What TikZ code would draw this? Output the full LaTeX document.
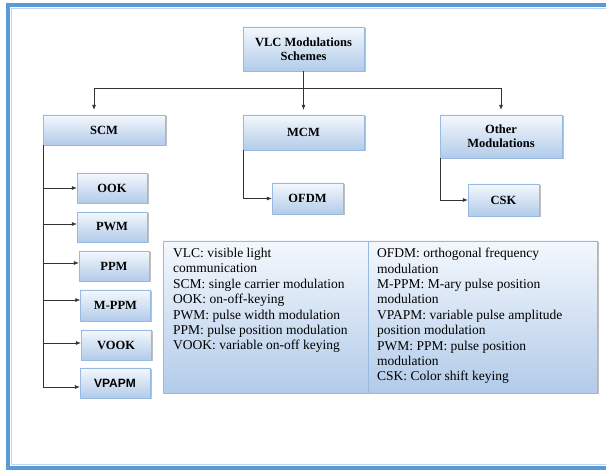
\documentclass[tikz,border=0pt]{standalone}
\usepackage{fontspec}
\setmainfont{Liberation Serif}
\newfontfamily\arialfont{Liberation Sans}
\usetikzlibrary{arrows.meta,shadows}

\definecolor{framecol}{RGB}{91,155,213}
\definecolor{framelite}{RGB}{189,215,238}
\definecolor{boxline}{RGB}{150,186,226}
\definecolor{boxtop}{RGB}{244,248,253}
\definecolor{boxbot}{RGB}{178,203,233}

\begin{document}
\begin{tikzpicture}[x=1pt, y=-1pt,
  box/.style={draw=boxline, top color=boxtop, bottom color=boxbot, align=center,
    inner sep=0pt, font=\bfseries\fontsize{12.5}{14}\selectfont,
    drop shadow={shadow xshift=1.5pt, shadow yshift=-1.5pt, fill=black!50, opacity=0.5}},
  arr/.style={-{Latex[length=5pt,width=4pt]}, line width=0.6pt, black!80},
  legtext/.style={align=left, inner sep=0pt, anchor=north west,
    font=\fontsize{13.5}{15.4}\selectfont}]

  \useasboundingbox (0,0) rectangle (606,470);

  % frame
  \draw[line width=4pt, framecol] (7.5,5) rectangle (640,468);
  \draw[line width=1pt, framelite] (11.5,9) rectangle (640,465);

  % top level
  \node[box, minimum width=121pt, minimum height=44pt] (vlc) at (303.5,49) {VLC Modulations\\Schemes};

  \node[box, minimum width=122pt, minimum height=30pt] (scm) at (104,130) {SCM};
  \node[box, minimum width=121pt, minimum height=35pt] (mcm) at (303.5,132.5) {MCM};
  \node[box, minimum width=122pt, minimum height=43pt] (other) at (501,136.5) {Other\\Modulations};

  \draw[line width=0.6pt, black!80] (vlc.south) -- ++(0,17) coordinate (bus);
  \draw[arr, shorten >=5pt] (bus) -| ([xshift=-10pt]scm.north);
  \draw[arr, shorten >=5pt] (bus) -- (mcm.north);
  \draw[arr, shorten >=5pt] (bus) -| (other.north);

  % SCM schemes
  \node[box, minimum width=70pt, minimum height=30pt] (ook) at (112,188) {OOK};
  \node[box, minimum width=70pt, minimum height=30pt] (pwm) at (112,227) {PWM};
  \node[box, minimum width=70pt, minimum height=30pt] (ppm) at (114,266) {PPM};
  \node[box, minimum width=70pt, minimum height=31pt] (mppm) at (115.5,305.5) {M-PPM};
  \node[box, minimum width=70pt, minimum height=30pt] (vook) at (116,345) {VOOK};
  \node[box, minimum width=70pt, minimum height=30pt, font=\arialfont\bfseries\fontsize{12}{14}\selectfont] (vpapm) at (115,383) {VPAPM};

  \foreach \n/\y in {ook/188, pwm/224, ppm/263, mppm/300, vook/343, vpapm/387}
    \draw[arr] (scm.south west) |- (\n.west |- 0,\y);

  % MCM and other
  \node[box, minimum width=71pt, minimum height=31pt] (ofdm) at (307.5,198.5) {OFDM};
  \node[box, minimum width=71pt, minimum height=32pt] (csk) at (503.5,200) {CSK};
  \draw[arr] (mcm.south west) |- (ofdm.west);
  \draw[arr] (other.south west) |- (csk.west);

  % legend
  \node[box, minimum width=434pt, minimum height=152pt] (legend) at (380,317) {};
  \draw[boxline, line width=0.8pt] (legend.north west -| 368,0) -- (legend.south west -| 368,0);
  \node[legtext] (legleft) at (173,248) {VLC: visible light\\communication\\SCM: single carrier modulation\\OOK: on-off-keying\\PWM: pulse width modulation\\PPM: pulse position modulation\\VOOK: variable on-off keying};
  \node[legtext] (legright) at (377,248) {OFDM: orthogonal frequency\\modulation\\M-PPM: M-ary pulse position\\modulation\\VPAPM: variable pulse amplitude\\position modulation\\PWM: PPM: pulse position\\modulation\\CSK: Color shift keying};

\end{tikzpicture}
\end{document}
